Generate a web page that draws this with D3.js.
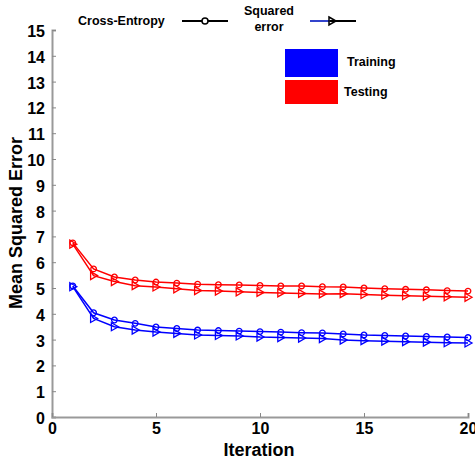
<!DOCTYPE html>
<html>
<head>
<meta charset="utf-8">
<script src="https://cdn.jsdelivr.net/npm/d3@7"></script>
<style>
  body { margin: 0; background: #fff; }
  text { font-family: "Liberation Sans", Arial, sans-serif; font-weight: bold; }
</style>
</head>
<body>
<div id="chart"></div>
<script>
// data
const iterations = d3.range(1, 21)
const ceTesting = [6.75, 5.74, 5.43, 5.31, 5.23, 5.19, 5.15, 5.13, 5.12, 5.1, 5.08, 5.08, 5.05, 5.04, 5.0, 4.97, 4.95, 4.93, 4.9, 4.88]
const seTesting = [6.7, 5.48, 5.25, 5.09, 5.04, 4.97, 4.9, 4.88, 4.85, 4.83, 4.81, 4.79, 4.77, 4.78, 4.75, 4.72, 4.7, 4.68, 4.66, 4.64]
const ceTraining = [5.08, 4.04, 3.76, 3.63, 3.49, 3.43, 3.37, 3.35, 3.33, 3.31, 3.29, 3.27, 3.26, 3.22, 3.18, 3.16, 3.14, 3.12, 3.1, 3.08]
const seTraining = [5.05, 3.82, 3.5, 3.37, 3.29, 3.24, 3.18, 3.16, 3.14, 3.1, 3.08, 3.06, 3.04, 2.98, 2.96, 2.94, 2.92, 2.9, 2.88, 2.87]
const xTicks = [0, 5, 10, 15, 20]
const yTicks = d3.range(0, 16)

const series = [
  {values: ceTesting, color: "#ff0000", marker: "circle"},
  {values: seTesting, color: "#ff0000", marker: "triangle"},
  {values: ceTraining, color: "#0000ff", marker: "circle"},
  {values: seTraining, color: "#0000ff", marker: "triangle"},
]

const dimensions = {
  width: 475,
  height: 460,
  margin: {top: 30, right: 7, bottom: 43, left: 52},
}
dimensions.boundedWidth = dimensions.width - dimensions.margin.left - dimensions.margin.right
dimensions.boundedHeight = dimensions.height - dimensions.margin.top - dimensions.margin.bottom

const wrapper = d3.select("#chart")
  .append("svg")
    .attr("width", dimensions.width)
    .attr("height", dimensions.height)

const bounds = wrapper.append("g")
  .attr("transform", `translate(${dimensions.margin.left},${dimensions.margin.top})`)

const xScale = d3.scaleLinear()
  .domain([0, 20])
  .range([0, dimensions.boundedWidth])

const yScale = d3.scaleLinear()
  .domain([0, 15])
  .range([dimensions.boundedHeight, 0])

// axes
const yAxis = bounds.append("g")
  .call(d3.axisLeft(yScale).tickValues(yTicks).tickSize(-4).tickPadding(7))
const xAxis = bounds.append("g")
  .attr("transform", `translate(0,${dimensions.boundedHeight})`)
  .call(d3.axisBottom(xScale).tickValues(xTicks).tickSize(-4).tickPadding(6))

;[xAxis, yAxis].forEach(ax => {
  ax.select(".domain").attr("stroke", "#999").attr("stroke-width", 2)
  ax.selectAll(".tick line").attr("stroke", "#888")
  ax.selectAll(".tick text")
    .attr("fill", "#000")
    .style("font-size", "16px")
    .style("font-weight", "bold")
})
yAxis.selectAll(".tick text").attr("dy", "0.4em")

// lines and markers
const line = d3.line()
  .x((d, i) => xScale(iterations[i]))
  .y(d => yScale(d))

const triangle = "M-3,-4L4,0L-3,4Z"

series.forEach(s => {
  bounds.append("path")
    .attr("d", line(s.values))
    .attr("fill", "none")
    .attr("stroke", s.color)
    .attr("stroke-width", 1.5)

  const pts = bounds.append("g").selectAll("g")
    .data(s.values)
    .join("g")
      .attr("transform", (d, i) => `translate(${xScale(iterations[i])},${yScale(d)})`)
  if (s.marker == "circle") {
    pts.append("circle")
      .attr("r", 2.8)
      .attr("fill", "none")
      .attr("stroke", s.color)
      .attr("stroke-width", 1.3)
  } else {
    pts.append("path")
      .attr("d", triangle)
      .attr("fill", "none")
      .attr("stroke", s.color)
      .attr("stroke-width", 1.3)
  }
})

// legend: marker styles
wrapper.append("text")
  .attr("x", 78).attr("y", 25)
  .style("font-size", "12.5px")
  .text("Cross-Entropy")
wrapper.append("line")
  .attr("x1", 182).attr("x2", 228).attr("y1", 21).attr("y2", 21)
  .attr("stroke", "#000").attr("stroke-width", 2)
wrapper.append("circle")
  .attr("cx", 205).attr("cy", 21).attr("r", 3)
  .attr("fill", "#fff").attr("stroke", "#000").attr("stroke-width", 1.5)

wrapper.append("text")
  .attr("x", 269).attr("y", 15)
  .attr("text-anchor", "middle")
  .style("font-size", "12.5px")
  .text("Squared")
wrapper.append("text")
  .attr("x", 269).attr("y", 31)
  .attr("text-anchor", "middle")
  .style("font-size", "12.5px")
  .text("error")
wrapper.append("line")
  .attr("x1", 310).attr("x2", 330).attr("y1", 21).attr("y2", 21)
  .attr("stroke", "#3344cc").attr("stroke-width", 2)
wrapper.append("line")
  .attr("x1", 330).attr("x2", 356).attr("y1", 21).attr("y2", 21)
  .attr("stroke", "#000").attr("stroke-width", 2)
wrapper.append("path")
  .attr("transform", "translate(332,21)")
  .attr("d", triangle)
  .attr("fill", "none").attr("stroke", "#000").attr("stroke-width", 1.5)

// legend: colours
wrapper.append("rect")
  .attr("x", 285).attr("y", 49).attr("width", 53).attr("height", 28)
  .attr("fill", "#0000ff")
wrapper.append("rect")
  .attr("x", 285).attr("y", 80).attr("width", 53).attr("height", 24)
  .attr("fill", "#ff0000")
wrapper.append("text")
  .attr("x", 347).attr("y", 66)
  .style("font-size", "12.5px")
  .text("Training")
wrapper.append("text")
  .attr("x", 344).attr("y", 96)
  .style("font-size", "12.5px")
  .text("Testing")

// axis titles
wrapper.append("text")
  .attr("x", 259).attr("y", 456)
  .attr("text-anchor", "middle")
  .style("font-size", "18px")
  .text("Iteration")
wrapper.append("text")
  .attr("transform", "translate(22,223) rotate(-90)")
  .attr("text-anchor", "middle")
  .style("font-size", "18px")
  .text("Mean Squared Error")
</script>
</body>
</html>
